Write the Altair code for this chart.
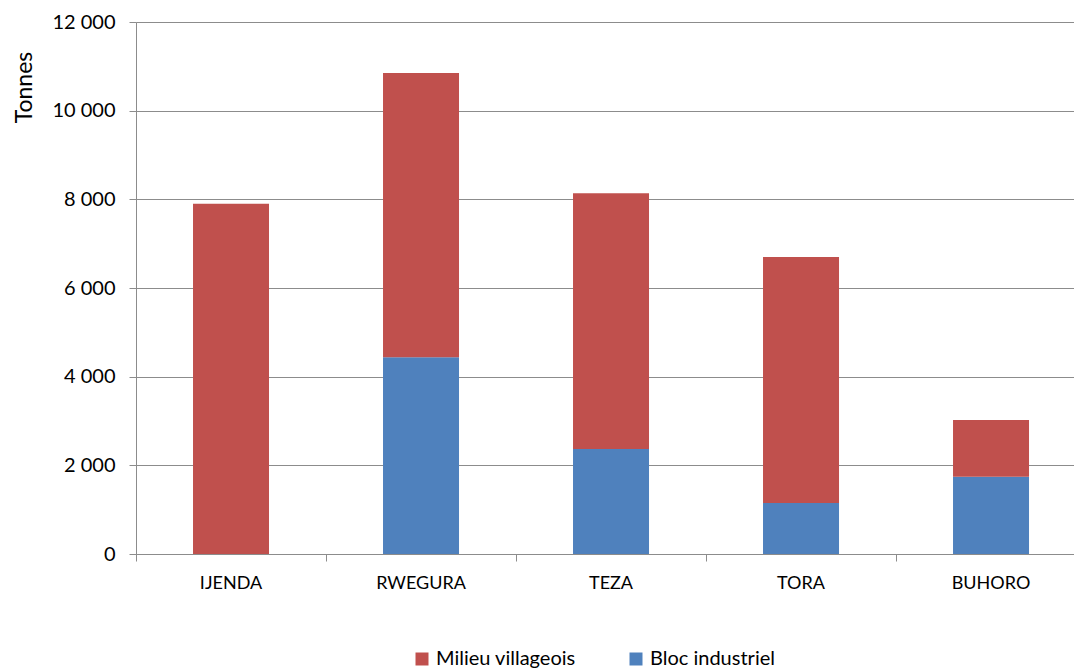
import altair as alt
import pandas as pd

# Tonnage per site, split by production sector
sites = ["IJENDA", "RWEGURA", "TEZA", "TORA", "BUHORO"]
bloc_industriel = [0, 4440, 2370, 1150, 1740]
milieu_villageois = [7900, 6410, 5770, 5550, 1280]

series_names = ["Milieu villageois", "Bloc industriel"]
series_colors = ["#C0504D", "#4F81BD"]

rows = []
for s, b, m in zip(sites, bloc_industriel, milieu_villageois):
    rows.append({"site": s, "secteur": "Bloc industriel", "tonnes": b, "ordre": 0})
    rows.append({"site": s, "secteur": "Milieu villageois", "tonnes": m, "ordre": 1})
df = pd.DataFrame(rows)

FONT = "Lato"
GRID = "#8C8C8C"

chart = (
    alt.Chart(df)
    .mark_bar()
    .encode(
        x=alt.X(
            "site:N",
            sort=sites,
            title=None,
            scale=alt.Scale(paddingInner=0.6, paddingOuter=0.2684, align=0.559),
            axis=alt.Axis(
                labelAngle=0,
                labelFontSize=18,
                labelColor="#000000",
                labelPadding=13,
                bandPosition=-0.75,
                tickSize=7,
                tickWidth=1,
                tickColor=GRID,
                domainColor=GRID,
                labelFont=FONT,
            ),
        ),
        y=alt.Y(
            "tonnes:Q",
            stack="zero",
            title="Tonnes",
            scale=alt.Scale(domain=[0, 12000]),
            axis=alt.Axis(
                values=[0, 2000, 4000, 6000, 8000, 10000, 12000],
                labelExpr="replace(format(datum.value, ','), ',', ' ')",
                labelFontSize=20,
                labelFont=FONT,
                labelColor="#000000",
                labelPadding=14,
                tickSize=7,
                tickColor=GRID,
                domainColor=GRID,
                gridColor=GRID,
                titleFont=FONT,
                titleFontSize=23,
                titleFontWeight="normal",
                titleColor="#000000",
                titleAngle=270,
                titleX=-112,
                titleY=65,
                titleAlign="center",
                titleBaseline="middle",
            ),
        ),
        color=alt.Color(
            "secteur:N",
            scale=alt.Scale(domain=series_names, range=series_colors),
            legend=alt.Legend(
                title=None,
                orient="none",
                direction="horizontal",
                legendX=276,
                legendY=627,
                symbolType="square",
                symbolSize=169,
                symbolStrokeWidth=0,
                labelFont=FONT,
                labelFontSize=20,
                labelColor="#000000",
                labelOffset=4,
                columnPadding=50,
            ),
        ),
        order=alt.Order("ordre:Q"),
    )
    .properties(
        width=938,
        height=532,
        padding={"left": 136, "top": 22, "right": 0, "bottom": 115},
        autosize=alt.AutoSizeParams(type="none"),
    )
    .configure_view(stroke=None)
    .configure(background="#FFFFFF")
)

chart.save("out.html", embed_options={"renderer": "svg", "actions": False})
